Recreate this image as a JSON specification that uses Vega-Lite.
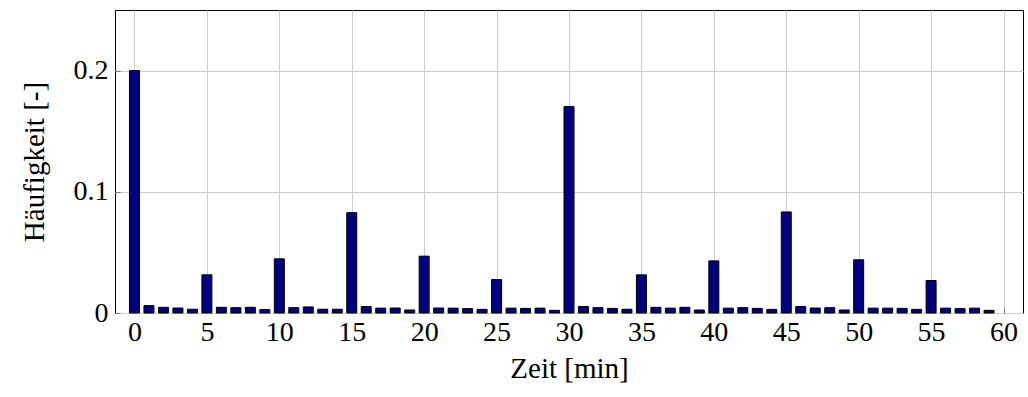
{
  "$schema": "https://vega.github.io/schema/vega-lite/v6.json",
  "autosize": {"type": "none"},
  "width": 908,
  "height": 303,
  "padding": {"left": 115, "top": 10, "right": 5, "bottom": 84},
  "background": "white",
  "config": {
    "view": {"stroke": "black", "strokeWidth": 1},
    "font": "Liberation Serif",
    "axis": {
      "labelFont": "Liberation Serif",
      "titleFont": "Liberation Serif",
      "labelFontSize": 28,
      "titleFontSize": 29,
      "titleFontWeight": "normal",
      "labelColor": "black",
      "titleColor": "black",
      "gridColor": "#cccccc",
      "gridWidth": 1,
      "gridOpacity": 1,
      "domain": false,
      "tickColor": "#777777",
      "tickSize": -5,
      "tickWidth": 1
    }
  },
  "data": {
    "values": [
      {"t": 0, "h": 0.2}, {"t": 1, "h": 0.0061}, {"t": 2, "h": 0.0047}, {"t": 3, "h": 0.0041}, {"t": 4, "h": 0.0031},
      {"t": 5, "h": 0.0315}, {"t": 6, "h": 0.0047}, {"t": 7, "h": 0.0044}, {"t": 8, "h": 0.0047}, {"t": 9, "h": 0.0028},
      {"t": 10, "h": 0.0447}, {"t": 11, "h": 0.0044}, {"t": 12, "h": 0.005}, {"t": 13, "h": 0.0031}, {"t": 14, "h": 0.0031},
      {"t": 15, "h": 0.0828}, {"t": 16, "h": 0.0053}, {"t": 17, "h": 0.004}, {"t": 18, "h": 0.0041}, {"t": 19, "h": 0.0025},
      {"t": 20, "h": 0.0469}, {"t": 21, "h": 0.0041}, {"t": 22, "h": 0.004}, {"t": 23, "h": 0.0036}, {"t": 24, "h": 0.003},
      {"t": 25, "h": 0.0276}, {"t": 26, "h": 0.004}, {"t": 27, "h": 0.0038}, {"t": 28, "h": 0.004}, {"t": 29, "h": 0.0022},
      {"t": 30, "h": 0.1703}, {"t": 31, "h": 0.0053}, {"t": 32, "h": 0.0044}, {"t": 33, "h": 0.0038}, {"t": 34, "h": 0.0031},
      {"t": 35, "h": 0.0315}, {"t": 36, "h": 0.0047}, {"t": 37, "h": 0.004}, {"t": 38, "h": 0.0047}, {"t": 39, "h": 0.0025},
      {"t": 40, "h": 0.043}, {"t": 41, "h": 0.004}, {"t": 42, "h": 0.0044}, {"t": 43, "h": 0.0038}, {"t": 44, "h": 0.003},
      {"t": 45, "h": 0.0834}, {"t": 46, "h": 0.0053}, {"t": 47, "h": 0.0041}, {"t": 48, "h": 0.0044}, {"t": 49, "h": 0.0025},
      {"t": 50, "h": 0.0439}, {"t": 51, "h": 0.004}, {"t": 52, "h": 0.004}, {"t": 53, "h": 0.0038}, {"t": 54, "h": 0.003},
      {"t": 55, "h": 0.0268}, {"t": 56, "h": 0.004}, {"t": 57, "h": 0.0036}, {"t": 58, "h": 0.004}, {"t": 59, "h": 0.0022}
    ]
  },
  "mark": {"type": "bar", "size": 10, "fill": "#000080", "stroke": "black", "strokeWidth": 1},
  "encoding": {
    "x": {
      "field": "t", "type": "quantitative",
      "scale": {"domain": [-1, 61], "nice": false, "zero": false},
      "axis": {"values": [0, 5, 10, 15, 20, 25, 30, 35, 40, 45, 50, 55, 60], "title": "Zeit [min]", "labelPadding": 10, "titlePadding": 8, "labelFlush": false}
    },
    "y": {
      "field": "h", "type": "quantitative",
      "scale": {"domain": [0, 0.25], "nice": false},
      "axis": {"values": [0, 0.1, 0.2], "format": "~g", "title": "Häufigkeit [-]", "labelPadding": 12, "titlePadding": 24}
    }
  }
}
